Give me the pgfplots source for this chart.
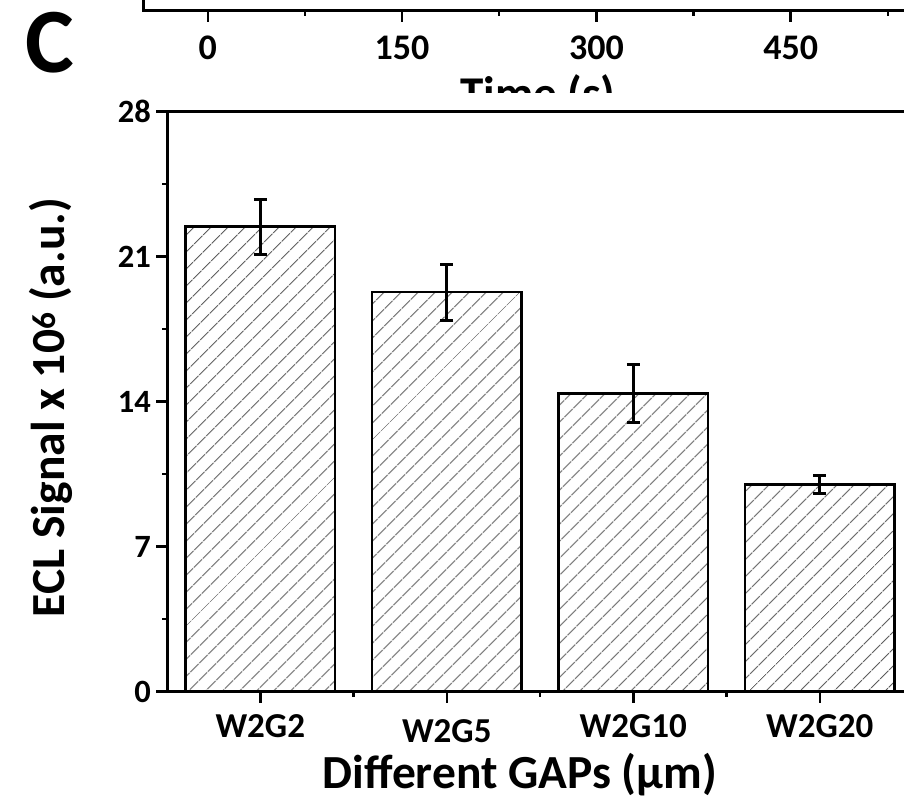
\documentclass[border=0pt]{standalone}
\usepackage{fontspec}
\setmainfont{Carlito}
\usepackage{pgfplots}
\pgfplotsset{compat=1.18}
\usetikzlibrary{patterns.meta}
\pgfplotstableread{
x y e
0 22.45 1.33
1 19.29 1.35
2 14.40 1.41
3 10.00 0.45
}\ecldata
\begin{document}
\begin{tikzpicture}
\useasboundingbox (0pt,0pt) rectangle (904pt,802pt);
\clip (0pt,0pt) rectangle (904pt,802pt);
% remnant of the panel above
\begin{axis}[
  at={(143pt,791pt)}, anchor=south west, scale only axis,
  width=842pt, height=300pt,
  xmin=-50, xmax=600, ymin=0, ymax=1,
  axis line style={line width=3pt},
  ytick=\empty,
  xtick={0,150,300,450}, minor xtick={75,225,375,525},
  tick align=outside, xtick pos=bottom,
  major tick length=11pt, minor tick length=5pt,
  tick style={black, line width=2.5pt},
  /pgf/number format/assume math mode=true,
  xticklabel style={font=\bfseries\fontsize{36}{36}\selectfont, anchor=base, inner sep=0pt, yshift=-38pt},
  xlabel={Time (s)},
  xlabel style={font=\bfseries\fontsize{47}{47}\selectfont, at={(axis description cs:0.469,-0.33)}, anchor=base, inner sep=0pt},
]
\end{axis}
\fill[white] (0pt,0pt) rectangle (904pt,709pt);
\node[font=\bfseries\fontsize{92}{92}\selectfont, anchor=base, inner sep=0pt] at (49.5pt,729pt) {C};
\begin{axis}[
  at={(167pt,110.3pt)}, anchor=south west, scale only axis,
  width=746pt, height=580pt,
  xmin=-0.5, xmax=3.5, ymin=0, ymax=28,
  ybar, bar width=149.5pt,
  axis line style={line width=3pt},
  ytick={0,7,14,21,28}, minor ytick={3.5,10.5,17.5,24.5},
  xtick={0,1,2,3}, minor xtick={0.5,1.5,2.5},
  xticklabels={W2G2,\raisebox{-5pt}[\height][\depth]{W2G5},W2G10,W2G20},
  tick align=outside, xtick pos=bottom, ytick pos=left,
  major tick length=11pt, minor tick length=5pt,
  tick style={black, line width=2.5pt},
  /pgf/number format/assume math mode=true,
  yticklabel style={font=\bfseries\fontsize{32.5}{32.5}\selectfont, inner sep=0pt, xshift=-5pt},
  xticklabel style={font=\bfseries\fontsize{35}{35}\selectfont, inner sep=0pt, yshift=-12pt},
  xlabel={Different GAPs (μm)},
  xlabel style={font=\bfseries\fontsize{47.5}{47.5}\selectfont, at={(axis description cs:0.473,-0.167)}, anchor=base, inner sep=0pt},
  ylabel={ECL Signal x 10\textsuperscript{6} (a.u.)},
  ylabel style={font=\bfseries\fontsize{47.5}{47.5}\selectfont, at={(axis description cs:-0.137,0.49)}, anchor=base, inner sep=0pt},
]
\addplot[draw=black, line width=2.5pt,
  pattern={Lines[angle=45,distance=13pt,line width=1.2pt]}, pattern color=black!65,
  error bars/.cd, y dir=both, y explicit,
  error bar style={line width=3pt, black},
  error mark options={rotate=90, mark size=6.5pt, line width=3pt, black}]
  table[x=x, y=y, y error=e] {\ecldata};
\end{axis}
\end{tikzpicture}
\end{document}
